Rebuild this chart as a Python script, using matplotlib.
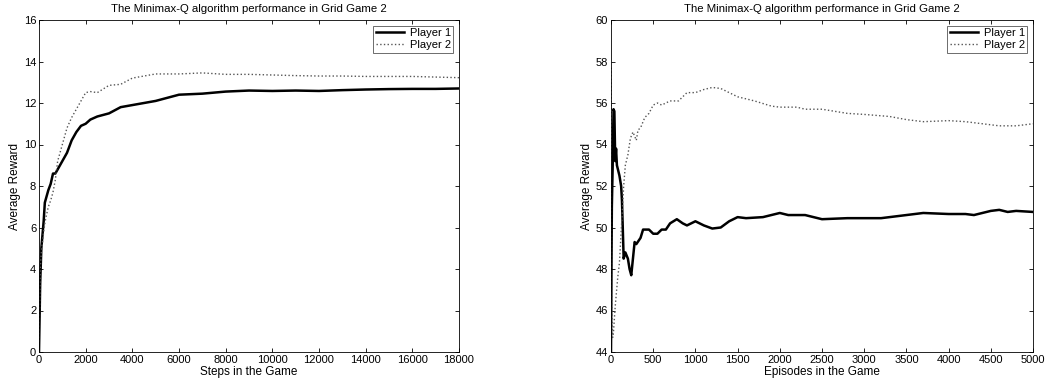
import numpy as np
import matplotlib
matplotlib.use("Agg")
import matplotlib.pyplot as plt

plt.rcParams['font.family'] = ['Liberation Sans', 'DejaVu Sans']
plt.rcParams['font.size'] = 8

# left panel: steps in the game
steps = [0, 50, 100, 200, 250, 300, 400, 500, 600, 700, 800, 1000, 1200, 1400,
         1600, 1800, 2000, 2200, 2500, 3000, 3500, 4000, 4500, 5000, 5500, 6000,
         7000, 8000, 9000, 10000, 11000, 12000, 13000, 14000, 15000, 16000,
         17000, 18000]
p1_steps = [0, 3.3, 5.0, 6.3, 7.2, 7.4, 7.8, 8.1, 8.6, 8.6, 8.8, 9.2, 9.6, 10.2,
            10.6, 10.9, 11.0, 11.2, 11.35, 11.5, 11.8, 11.9, 12.0, 12.1, 12.25,
            12.4, 12.45, 12.55, 12.6, 12.58, 12.6, 12.58, 12.62, 12.65, 12.67,
            12.68, 12.68, 12.7]
p2_steps = [0.5, 4.0, 4.8, 5.8, 6.2, 6.5, 7.0, 7.3, 7.7, 8.3, 9.2, 10.0, 10.8,
            11.3, 11.7, 12.1, 12.5, 12.55, 12.5, 12.85, 12.9, 13.2, 13.3, 13.4,
            13.4, 13.4, 13.45, 13.38, 13.38, 13.35, 13.32, 13.3, 13.3, 13.28,
            13.28, 13.28, 13.25, 13.22]

# right panel: episodes in the game
ep1 = [0, 10, 20, 30, 40, 50, 60, 70, 100, 120, 130, 150, 170, 200, 220, 240,
       260, 280, 300, 350, 380, 400, 450, 500, 550, 600, 650, 700, 780, 850,
       900, 1000, 1100, 1200, 1300, 1400, 1500, 1600, 1800, 2000, 2100, 2300,
       2500, 2800, 3000, 3200, 3500, 3700, 4000, 4200, 4300, 4500, 4600, 4700,
       4800, 5000]
p1_ep = [44.0, 51.0, 53.0, 55.7, 55.6, 53.2, 53.8, 53.0, 52.5, 52.0, 51.3, 48.5,
         48.8, 48.5, 48.0, 47.7, 48.5, 49.3, 49.2, 49.5, 49.9, 49.9, 49.9, 49.7,
         49.7, 49.9, 49.9, 50.2, 50.4, 50.2, 50.1, 50.3, 50.1, 49.95, 50.0, 50.3,
         50.5, 50.45, 50.5, 50.7, 50.6, 50.6, 50.4, 50.45, 50.45, 50.45, 50.6,
         50.7, 50.65, 50.65, 50.6, 50.8, 50.85, 50.75, 50.8, 50.75]
ep2 = [0, 5, 10, 20, 30, 50, 80, 100, 130, 150, 170, 200, 230, 260, 300,
       320, 350, 400, 450, 500, 550, 600, 700, 800, 850, 900, 1000, 1100, 1200,
       1300, 1400, 1500, 1700, 1900, 2000, 2200, 2300, 2500, 2800, 3000, 3300,
       3500, 3700, 4000, 4200, 4400, 4600, 4800, 5000]
p2_ep = [57.7, 50.0, 46.0, 44.7, 45.0, 46.2, 47.6, 48.3, 50.5, 52.0, 53.0,
         53.5, 54.3, 54.6, 54.2, 54.7, 54.8, 55.3, 55.5, 55.9, 56.0, 55.9, 56.1,
         56.1, 56.3, 56.5, 56.5, 56.65, 56.75, 56.7, 56.5, 56.3, 56.1, 55.85,
         55.8, 55.8, 55.7, 55.7, 55.5, 55.45, 55.35, 55.2, 55.1, 55.15, 55.1,
         55.0, 54.9, 54.9, 55.0]

fig = plt.figure(figsize=(10.47, 3.83), dpi=100)
W, H = 1047, 383
ax1 = fig.add_axes([39 / W, 1 - 352 / H, 420 / W, 332 / H])
ax2 = fig.add_axes([611 / W, 1 - 352 / H, 422 / W, 332 / H])


def style(ax):
    ax.tick_params(direction='in', top=True, right=True, length=3, width=0.6,
                   labelsize=8, pad=2)
    for s in ax.spines.values():
        s.set_linewidth(0.6)
    ax.set_title('The Minimax-Q algorithm performance in Grid Game 2',
                 fontsize=8.2, pad=5.5)
    ax.set_ylabel('Average Reward', fontsize=8.5, labelpad=2)
    leg = ax.legend(loc='upper right', fontsize=8, fancybox=False,
                    framealpha=1, edgecolor='#555555', handlelength=2.5,
                    borderpad=0.25, labelspacing=0.15, handletextpad=0.5,
                    borderaxespad=0.5)
    leg.get_frame().set_linewidth(0.6)


ax1.plot(steps, p1_steps, color='black', lw=1.8, label='Player 1')
ax1.plot(steps, p2_steps, color='#555555', lw=1.0, ls=':', label='Player 2')
ax1.set_xlim(0, 18000)
ax1.set_ylim(0, 16)
ax1.set_xticks(np.arange(0, 18001, 2000))
ax1.set_yticks(np.arange(0, 17, 2))
ax1.set_xlabel('Steps in the Game', fontsize=8.5, labelpad=1)
style(ax1)

ax2.plot(ep1, p1_ep, color='black', lw=1.8, label='Player 1')
ax2.plot(ep2, p2_ep, color='#555555', lw=1.0, ls=':', label='Player 2')
ax2.set_xlim(0, 5000)
ax2.set_ylim(44, 60)
ax2.set_xticks(np.arange(0, 5001, 500))
ax2.set_yticks(np.arange(44, 61, 2))
ax2.set_xlabel('Episodes in the Game', fontsize=8.5, labelpad=1)
style(ax2)

fig.savefig('out.png', dpi=100)
